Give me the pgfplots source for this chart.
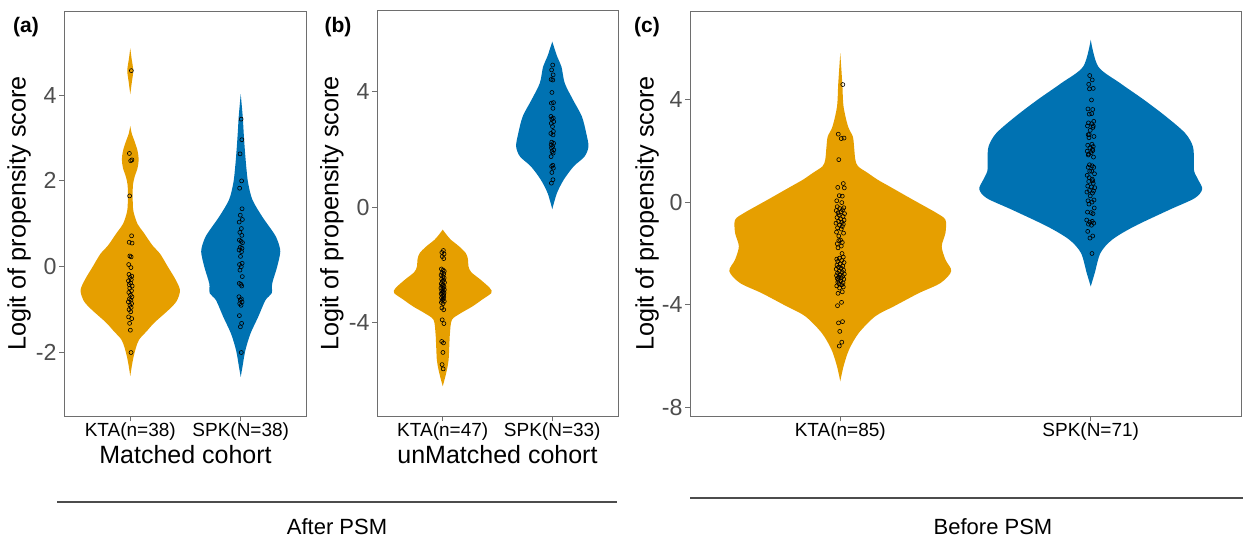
\documentclass[border=0pt]{standalone}
\usepackage{pgfplots}
\pgfplotsset{compat=1.18}
\usepackage{pgfplotstable}
\usepgfplotslibrary{fillbetween}
\usepackage{fontspec}
\setmainfont{Liberation Sans}
\definecolor{kta}{RGB}{230,159,0}
\definecolor{spk}{RGB}{0,114,178}
\definecolor{tickgray}{RGB}{77,77,77}
\definecolor{framegray}{RGB}{110,110,110}

% ---- violin outlines: y, half-width (axis units) ----
\pgfplotstableread{
y w
-2.55 0
-2.3 0.015
-2.1 0.03
-1.9 0.05
-1.7 0.08
-1.5 0.15
-1.3 0.22
-1.0 0.35
-0.8 0.42
-0.55 0.45
-0.3 0.41
0.0 0.34
0.3 0.27
0.5 0.2
0.8 0.12
1.0 0.065
1.3 0.028
1.6 0.022
1.9 0.024
2.1 0.04
2.3 0.066
2.5 0.076
2.7 0.066
2.9 0.042
3.1 0.014
3.28 0
}\vAkta
\pgfplotstableread{
y w
4.02 0
4.3 0.014
4.57 0.027
4.85 0.012
5.09 0
}\vAktatop
\pgfplotstableread{
y w
-2.57 0
-2.33 0.016
-1.95 0.042
-1.56 0.088
-1.17 0.158
-0.78 0.224
-0.62 0.28
-0.39 0.285
0.0 0.33
0.35 0.358
0.6 0.335
0.78 0.3
1.17 0.194
1.56 0.106
1.95 0.067
2.33 0.05
2.7 0.038
3.11 0.027
3.5 0.018
4.02 0
}\vAspk
\pgfplotstableread{
y w
-6.2 0
-5.86 0.024
-5.51 0.045
-5.28 0.054
-4.8 0.06
-4.36 0.066
-3.90 0.084
-3.67 0.165
-3.44 0.27
-3.20 0.36
-2.97 0.444
-2.80 0.43
-2.51 0.345
-2.25 0.26
-2.05 0.235
-1.8 0.23
-1.59 0.21
-1.36 0.15
-1.13 0.075
-0.96 0.036
-0.78 0
}\vBkta
\pgfplotstableread{
y w
-0.07 0
0.48 0.042
0.95 0.105
1.41 0.195
1.75 0.294
2.10 0.33
2.56 0.31
3.14 0.27
3.71 0.19
4.29 0.114
4.86 0.084
5.21 0.045
5.73 0
}\vBspk
\pgfplotstableread{
y w
-6.97 0
-6.39 0.013
-5.74 0.035
-5.09 0.074
-4.44 0.14
-4.05 0.215
-3.54 0.314
-3.15 0.40
-2.69 0.443
-2.24 0.42
-1.72 0.405
-1.2 0.42
-0.69 0.42
-0.43 0.385
-0.17 0.338
0.09 0.29
0.35 0.243
0.61 0.196
0.87 0.149
1.13 0.11
1.39 0.071
1.65 0.06
2.16 0.055
2.55 0.05
2.94 0.031
3.72 0.013
4.62 0.008
5.79 0
}\vCkta
\pgfplotstableread{
y w
-3.28 0
-2.76 0.016
-1.98 0.039
-1.46 0.086
-0.95 0.173
-0.30 0.314
0.15 0.415
0.5 0.445
0.85 0.43
1.2 0.413
1.6 0.412
2.16 0.408
2.68 0.377
3.33 0.30
3.98 0.212
4.62 0.118
5.27 0.03
6.31 0
}\vCspk

% ---- jittered points: dx, y ----
\pgfplotstableread{
dx y
0.010 4.57
-0.008 2.64
0.015 2.49
0.004 2.47
-0.006 1.65
0.012 0.72
-0.010 0.57
0.016 0.55
-0.004 0.25
0.008 0.23
-0.014 0.05
0.006 -0.02
-0.012 -0.18
0.014 -0.22
-0.002 -0.25
0.009 -0.30
-0.016 -0.33
0.003 -0.38
-0.009 -0.42
0.017 -0.45
-0.005 -0.50
0.011 -0.56
-0.013 -0.60
0.002 -0.66
0.015 -0.70
-0.007 -0.75
0.006 -0.78
-0.017 -0.82
0.012 -0.86
-0.003 -0.90
0.008 -0.95
-0.011 -1.00
0.004 -1.05
-0.015 -1.17
0.013 -1.21
-0.006 -1.32
0.001 -1.48
0.007 -2.00
}\pAkta
\pgfplotstableread{
dx y
0.004 3.44
0.010 2.96
-0.006 2.63
0.008 2.00
-0.010 1.83
0.012 1.35
-0.004 1.20
0.015 1.10
-0.014 1.04
0.006 0.89
-0.008 0.80
0.010 0.73
-0.012 0.62
0.003 0.59
0.016 0.56
-0.005 0.45
0.011 0.43
-0.015 0.39
0.007 0.35
-0.002 0.24
0.013 0.08
-0.011 0.05
0.005 0.00
-0.007 -0.08
0.014 -0.23
-0.013 -0.39
0.002 -0.41
0.009 -0.45
-0.016 -0.70
0.006 -0.75
-0.004 -0.78
0.012 -0.82
-0.009 -0.86
0.003 -0.90
-0.012 -1.14
0.008 -1.32
-0.003 -1.40
0.005 -2.00
}\pAspk
\pgfplotstableread{
dx y
0.006 -1.50
-0.008 -1.57
0.012 -1.62
-0.004 -1.71
0.009 -1.78
-0.012 -2.14
0.003 -2.18
0.014 -2.22
-0.006 -2.27
0.010 -2.31
-0.015 -2.35
0.001 -2.40
0.013 -2.45
-0.010 -2.49
0.007 -2.53
-0.003 -2.57
0.016 -2.61
-0.013 -2.65
0.004 -2.69
-0.007 -2.72
0.011 -2.76
-0.016 -2.80
0.002 -2.83
0.015 -2.86
-0.009 -2.89
0.006 -2.92
-0.004 -2.95
0.012 -2.97
-0.014 -3.00
0.008 -3.03
-0.002 -3.07
0.010 -3.11
-0.011 -3.14
0.005 -3.18
-0.006 -3.22
0.014 -3.26
-0.012 -3.30
0.003 -3.34
-0.008 -3.49
0.009 -3.55
-0.005 -3.90
0.011 -4.03
-0.009 -4.65
0.007 -4.70
0.002 -5.03
-0.006 -5.45
0.004 -5.60
}\pBkta
\pgfplotstableread{
dx y
0.004 4.92
-0.006 4.75
0.008 4.58
-0.010 4.42
0.005 4.40
-0.003 3.97
0.011 3.62
-0.008 3.60
0.006 3.42
-0.012 3.14
0.009 3.08
-0.004 3.05
0.013 2.96
-0.009 2.90
0.002 2.79
0.010 2.62
-0.013 2.55
0.007 2.50
-0.005 2.25
0.012 2.21
-0.010 2.16
0.003 2.10
-0.007 2.05
0.014 1.98
-0.002 1.92
0.008 1.87
-0.011 1.75
0.005 1.45
-0.006 1.41
0.010 1.35
-0.004 1.20
0.006 0.95
-0.008 0.83
}\pBspk

\pgfplotsset{
  panel/.style={
    scale only axis, anchor=south west,
    xmin=0.4, xmax=2.6, xtick={1,2},
    axis line style={framegray, line width=0.5pt},
    tick align=outside, xtick pos=bottom, ytick pos=left,
    major tick length=2.5pt, tick style={framegray, line width=0.5pt},
    /pgf/number format/assume math mode=true,
    yticklabel style={font=\fontsize{11.6}{11.6}\selectfont, text=tickgray, inner sep=0pt, xshift=-1pt},
    xticklabel style={font=\fontsize{9.5}{9.5}\selectfont, text=black, inner sep=0pt, yshift=-0.5pt},
    ylabel style={font=\fontsize{12.6}{13}\selectfont},
    xlabel style={font=\fontsize{12.5}{13}\selectfont},
  },
  pts/.style={only marks, mark=o, mark size=1pt, mark options={black, line width=0.3pt}},
}

\begin{document}
\begin{tikzpicture}

% ---------- (a) ----------
\begin{axis}[panel, at={(32pt,60.5pt)}, width=121.5pt, height=202.5pt,
  ymin=-3.48, ymax=5.96, ytick={-2,0,2,4},
  xticklabels={KTA(n=38),SPK(N=38)},
  xlabel={Matched cohort}, ylabel={Logit of propensity score},
  ylabel style={at={(axis description cs:-0.185,0.5)}, anchor=center},
  xlabel style={at={(axis description cs:0.5,-0.094)}, anchor=center}]
\addplot[name path=aKR, draw=none, smooth] table[x expr=1+\thisrow{w}, y=y] {\vAkta};
\addplot[name path=aKL, draw=none, smooth] table[x expr=1-\thisrow{w}, y=y] {\vAkta};
\addplot[fill=kta, draw=none] fill between[of=aKR and aKL];
\addplot[name path=aTR, draw=none, smooth] table[x expr=1+\thisrow{w}, y=y] {\vAktatop};
\addplot[name path=aTL, draw=none, smooth] table[x expr=1-\thisrow{w}, y=y] {\vAktatop};
\addplot[fill=kta, draw=none] fill between[of=aTR and aTL];
\addplot[name path=aSR, draw=none, smooth] table[x expr=2+\thisrow{w}, y=y] {\vAspk};
\addplot[name path=aSL, draw=none, smooth] table[x expr=2-\thisrow{w}, y=y] {\vAspk};
\addplot[fill=spk, draw=none] fill between[of=aSR and aSL];
\addplot[pts] table[x expr=1+\thisrow{dx}, y=y] {\pAkta};
\addplot[pts] table[x expr=2+\thisrow{dx}, y=y] {\pAspk};
\end{axis}

% ---------- (b) ----------
\begin{axis}[panel, at={(188.5pt,60.5pt)}, width=120.5pt, height=202.5pt,
  ymin=-7.23, ymax=6.79, ytick={-4,0,4},
  xticklabels={KTA(n=47),SPK(N=33)},
  xlabel={unMatched cohort}, ylabel={Logit of propensity score},
  ylabel style={at={(axis description cs:-0.187,0.5)}, anchor=center},
  xlabel style={at={(axis description cs:0.5,-0.094)}, anchor=center}]
\addplot[name path=bKR, draw=none, smooth] table[x expr=1+\thisrow{w}, y=y] {\vBkta};
\addplot[name path=bKL, draw=none, smooth] table[x expr=1-\thisrow{w}, y=y] {\vBkta};
\addplot[fill=kta, draw=none] fill between[of=bKR and bKL];
\addplot[name path=bSR, draw=none, smooth] table[x expr=2+\thisrow{w}, y=y] {\vBspk};
\addplot[name path=bSL, draw=none, smooth] table[x expr=2-\thisrow{w}, y=y] {\vBspk};
\addplot[fill=spk, draw=none] fill between[of=bSR and bSL];
\addplot[pts] table[x expr=1+\thisrow{dx}, y=y] {\pBkta};
\addplot[pts] table[x expr=2+\thisrow{dx}, y=y] {\pBspk};
\end{axis}

% ---------- (c) ----------
\begin{axis}[panel, at={(345pt,60.5pt)}, width=275.5pt, height=202.5pt,
  ymin=-8.32, ymax=7.43, ytick={-8,-4,0,4},
  xticklabels={KTA(n=85),SPK(N=71)},
  ylabel={Logit of propensity score},
  ylabel style={at={(axis description cs:-0.078,0.5)}, anchor=center}]
\addplot[name path=cKR, draw=none, smooth] table[x expr=1+\thisrow{w}, y=y] {\vCkta};
\addplot[name path=cKL, draw=none, smooth] table[x expr=1-\thisrow{w}, y=y] {\vCkta};
\addplot[fill=kta, draw=none] fill between[of=cKR and cKL];
\addplot[name path=cSR, draw=none, smooth] table[x expr=2+\thisrow{w}, y=y] {\vCspk};
\addplot[name path=cSL, draw=none, smooth] table[x expr=2-\thisrow{w}, y=y] {\vCspk};
\addplot[fill=spk, draw=none] fill between[of=cSR and cSL];
\addplot[pts] table[x expr=1+\thisrow{dx}, y=y] {\pAkta};
\addplot[pts] table[x expr=1-\thisrow{dx}, y=y] {\pBkta};
\addplot[pts] table[x expr=2+\thisrow{dx}, y=y] {\pAspk};
\addplot[pts] table[x expr=2-\thisrow{dx}, y=y] {\pBspk};
\end{axis}

% ---------- panel tags and group captions ----------
\node[font=\bfseries\fontsize{10.5}{10.5}\selectfont] at (13pt,255pt) {(a)};
\node[font=\bfseries\fontsize{10.5}{10.5}\selectfont] at (169pt,255pt) {(b)};
\node[font=\bfseries\fontsize{10.5}{10.5}\selectfont] at (323.5pt,255pt) {(c)};
\draw[line width=0.9pt, black!70] (28.5pt,17.5pt) -- (308.5pt,17.5pt);
\draw[line width=0.8pt, black!70] (345pt,19.5pt) -- (621.5pt,19.5pt);
\node[font=\fontsize{11}{11}\selectfont, anchor=base, inner sep=0pt] at (168.5pt,1.5pt) {After PSM};
\node[font=\fontsize{11}{11}\selectfont, anchor=base, inner sep=0pt] at (496.5pt,1.5pt) {Before PSM};
\pgfresetboundingbox
\path[use as bounding box] (0,0) rectangle (621.5pt,268.5pt);
\end{tikzpicture}
\end{document}
